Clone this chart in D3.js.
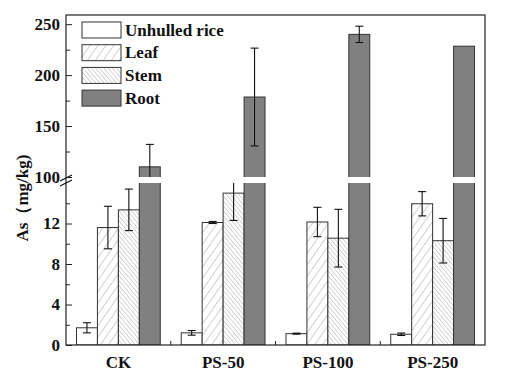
<!DOCTYPE html>
<html>
<head>
<meta charset="utf-8">
<script src="https://cdn.jsdelivr.net/npm/d3@7"></script>
<style>
  body { margin: 0; background: #fff; }
  text { font-family: "Liberation Serif", "Times New Roman", serif; font-weight: bold; }
</style>
</head>
<body>
<svg id="chart" width="516" height="376"></svg>
<script>
// data
var categories = ["CK", "PS-50", "PS-100", "PS-250"]
var seriesNames = ["Unhulled rice", "Leaf", "Stem", "Root"]
var rice = [1.7, 1.2, 1.12, 1.06]
var riceErr = [0.5, 0.23, 0.05, 0.12]
var leaf = [11.6, 12.1, 12.15, 13.95]
var leafErr = [2.1, 0.1, 1.45, 1.2]
var stem = [13.35, 15.0, 10.55, 10.3]
var stemErr = [2.05, 2.7, 2.85, 2.2]
var root = [110, 178.5, 240, 228.4]
var rootErr = [22, 48, 8, 0]
var lowerTicks = [0, 4, 8, 12]
var lowerMinor = [2, 6, 10, 14]
var upperTicks = [100, 150, 200, 250]
var upperMinor = [125, 175, 225]

var values = [rice, leaf, stem, root]
var errors = [riceErr, leafErr, stemErr, rootErr]

var svg = d3.select("#chart")
var margin = { left: 66, right: 485, top: 15, bottom: 345 }

var x0 = d3.scaleBand().domain(categories).range([margin.left, margin.right])
var x1 = d3.scaleBand().domain(seriesNames).range([0, x0.bandwidth()]).paddingOuter(0.5)

// two y segments (broken axis)
var segs = [
    { y: d3.scaleLinear().domain([0, 16]).range([margin.bottom, 183]), y0: 183, y1: margin.bottom, id: "lo" },
    { y: d3.scaleLinear().domain([100, 259]).range([177, margin.top]), y0: margin.top, y1: 177, id: "up" }
]

var defs = svg.append("defs")
segs.forEach(s => {
    defs.append("clipPath").attr("id", "clip-" + s.id)
        .append("rect").attr("x", margin.left).attr("y", s.y0)
        .attr("width", margin.right - margin.left).attr("height", s.y1 - s.y0)
})

// hatch patterns
function hatch(id, size, angle, color, w) {
    var p = defs.append("pattern").attr("id", id).attr("patternUnits", "userSpaceOnUse")
        .attr("width", size).attr("height", size)
        .attr("patternTransform", `rotate(${angle})`)
    p.append("rect").attr("width", size).attr("height", size).attr("fill", "#fff")
    p.append("line").attr("x1", 0).attr("y1", 0).attr("x2", 0).attr("y2", size)
        .attr("stroke", color).attr("stroke-width", w)
}
hatch("leafHatch", 6.5, 35, "#999", 0.9)
hatch("stemHatch", 3.2, -40, "#999", 0.8)

var fills = ["#fff", "url(#leafHatch)", "url(#stemHatch)", "#808080"]

segs.forEach(s => {
    var g = svg.append("g").attr("clip-path", `url(#clip-${s.id})`)
    var y = s.y
    var base = y(y.domain()[0] === 0 ? 0 : -1000)
    seriesNames.forEach((name, si) => {
        g.selectAll(null)
            .data(categories)
            .enter()
            .append("rect")
            .attr("x", d => x0(d) + x1(name))
            .attr("y", (d, i) => y(values[si][i]))
            .attr("width", x1.bandwidth())
            .attr("height", (d, i) => Math.max(0, base - y(values[si][i])))
            .attr("fill", fills[si])
            .attr("stroke", "#333")
            .attr("stroke-width", 1)
    })
    // error bars
    seriesNames.forEach((name, si) => {
        categories.forEach((c, i) => {
            var e = errors[si][i]
            if (!e) return
            var cx = x0(c) + x1(name) + x1.bandwidth() / 2
            var v = values[si][i]
            var eg = g.append("g").attr("stroke", "#111").attr("stroke-width", 1.1)
            eg.append("line").attr("x1", cx).attr("x2", cx).attr("y1", y(v - e)).attr("y2", y(v + e))
            ;[v - e, v + e].forEach(t => {
                eg.append("line").attr("x1", cx - 4).attr("x2", cx + 4).attr("y1", y(t)).attr("y2", y(t))
            })
        })
    })
})

// y axes, ticks pointing inward
function drawAxis(s, major, minor) {
    svg.append("g")
        .attr("transform", `translate(${margin.left},0)`)
        .call(d3.axisLeft(s.y).tickValues(major).tickSize(-6).tickPadding(6))
        .call(g => g.select(".domain").remove())
        .call(g => g.selectAll("text").attr("font-size", 17).attr("font-family", null).attr("fill", "#111"))
        .call(g => g.selectAll("line").attr("stroke", "#222"))
    svg.append("g")
        .attr("transform", `translate(${margin.left},0)`)
        .call(d3.axisLeft(s.y).tickValues(minor).tickSize(-4).tickFormat(""))
        .call(g => g.select(".domain").remove())
        .call(g => g.selectAll("line").attr("stroke", "#222"))
}
drawAxis(segs[0], lowerTicks, lowerMinor)
drawAxis(segs[1], upperTicks, upperMinor)

// frame
svg.append("rect")
    .attr("x", margin.left).attr("y", margin.top)
    .attr("width", margin.right - margin.left).attr("height", margin.bottom - margin.top)
    .attr("fill", "none").attr("stroke", "#222").attr("stroke-width", 1.2)

// break marks on the y axis
svg.append("g").attr("stroke", "#111").attr("stroke-width", 1.2)
    .selectAll("line").data([0, 5]).enter().append("line")
    .attr("x1", margin.left - 6).attr("x2", margin.left + 6)
    .attr("y1", d => 181 + d).attr("y2", d => 175 + d)

// x axis: ticks at group boundaries, labels at centres
svg.append("g")
    .attr("stroke", "#222")
    .selectAll("line")
    .data(categories.slice(1))
    .enter()
    .append("line")
    .attr("x1", d => x0(d)).attr("x2", d => x0(d))
    .attr("y1", margin.bottom).attr("y2", margin.bottom - 4)

svg.append("g")
    .selectAll("text")
    .data(categories)
    .enter()
    .append("text")
    .attr("x", d => x0(d) + x0.bandwidth() / 2)
    .attr("y", 368)
    .attr("text-anchor", "middle")
    .attr("font-size", 17)
    .attr("fill", "#111")
    .text(d => d)

// y label
svg.append("text")
    .attr("transform", "translate(28,198) rotate(-90)")
    .attr("text-anchor", "middle")
    .attr("font-size", 17)
    .attr("fill", "#111")
    .text("As（mg/kg)")

// legend
var legend = svg.append("g")
    .selectAll("g")
    .data(seriesNames)
    .enter()
    .append("g")
    .attr("transform", (d, i) => `translate(82,${22 + i * 22.7})`)

legend.append("rect")
    .attr("width", 39)
    .attr("height", 16)
    .attr("fill", (d, i) => fills[i])
    .attr("stroke", "#333")
    .attr("stroke-width", 1)

legend.append("text")
    .attr("x", 43)
    .attr("y", 13.5)
    .attr("font-size", 17)
    .attr("fill", "#111")
    .text(d => d)
</script>
</body>
</html>
